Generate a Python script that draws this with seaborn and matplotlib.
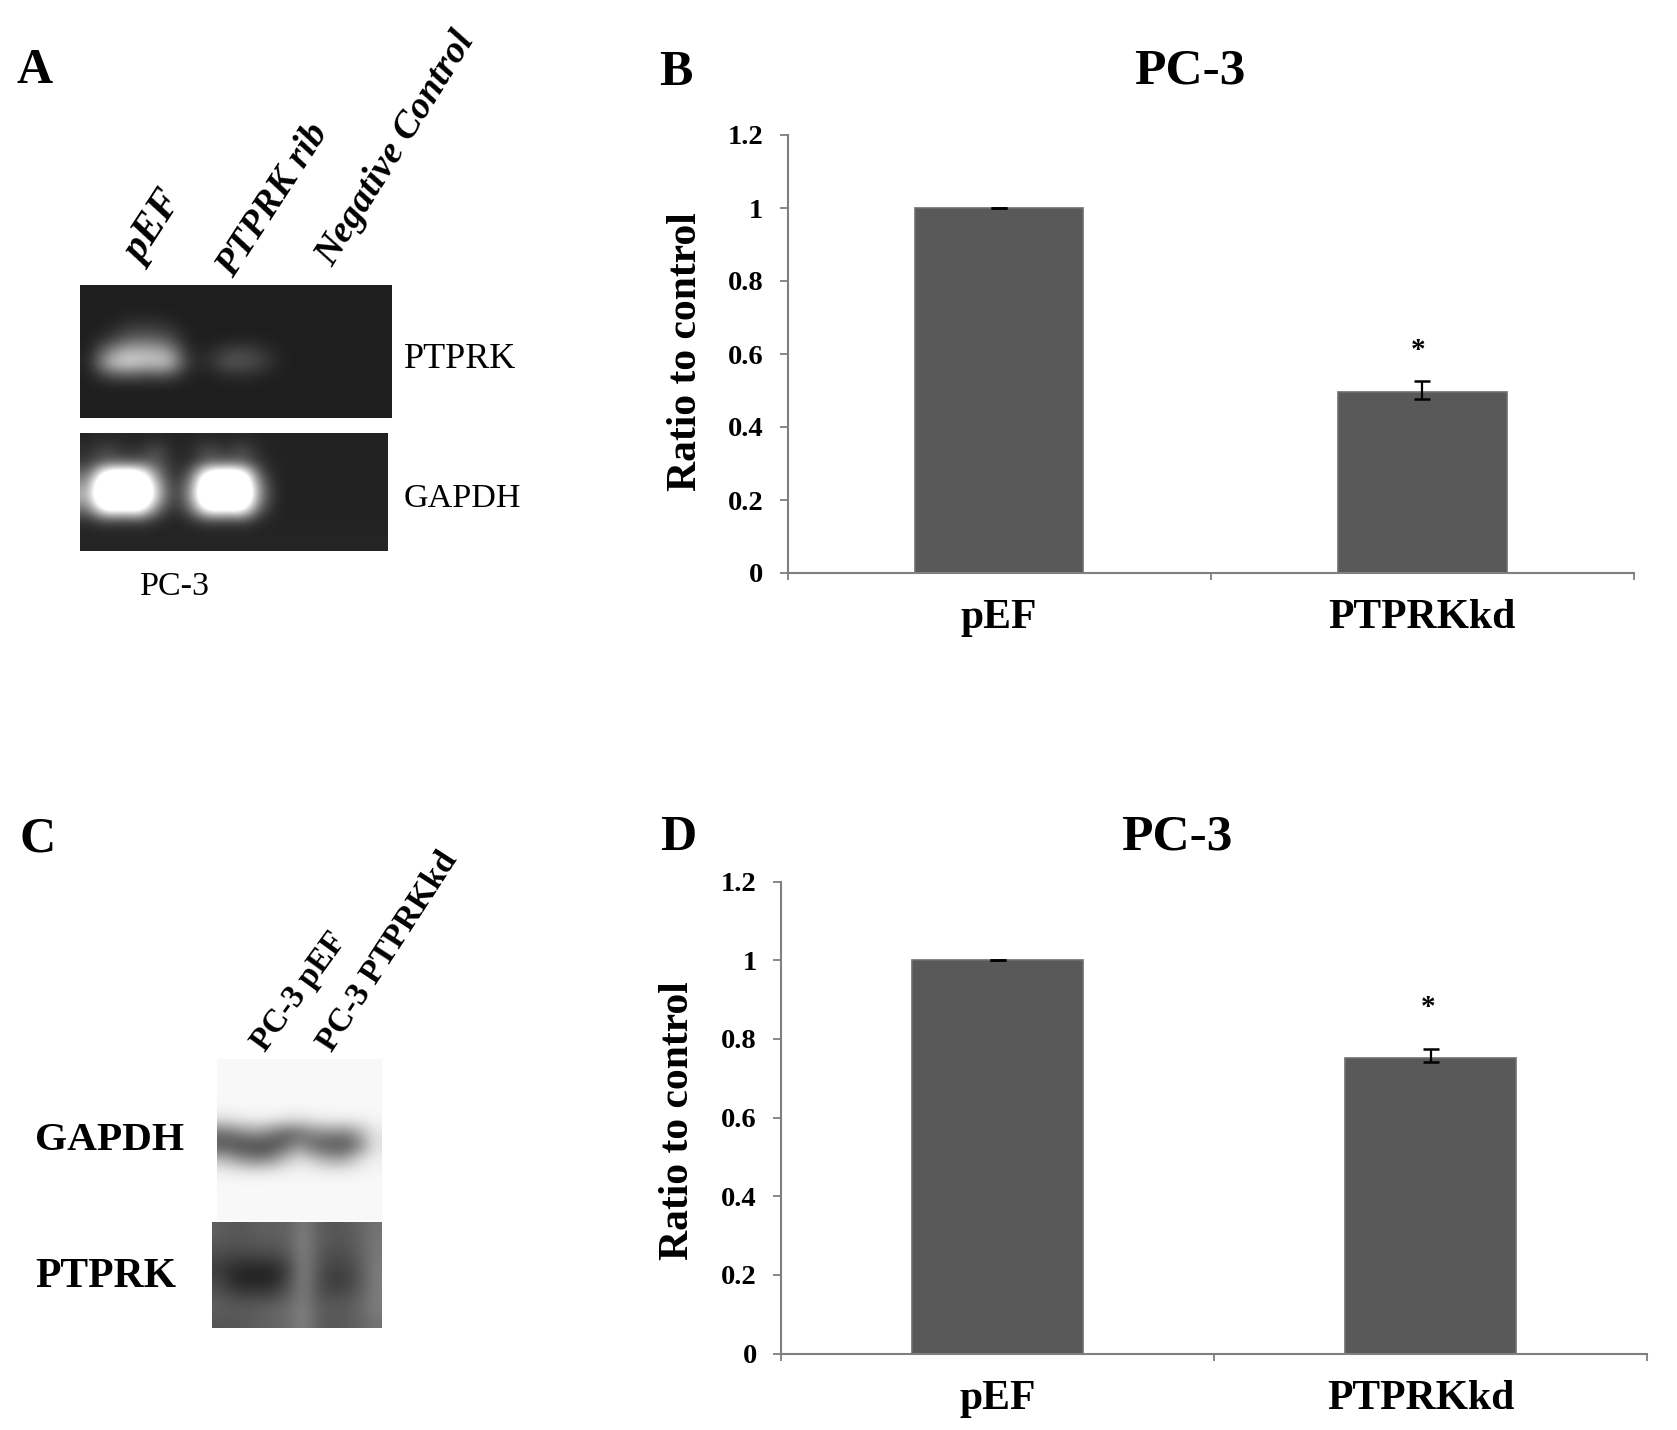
#!/usr/bin/env python3
# -*- coding: utf-8 -*-
import numpy as np
import pandas as pd
import matplotlib
matplotlib.use('Agg')
import matplotlib.pyplot as plt
import seaborn as sns

W, H = 1677, 1430

groups = ['pEF', 'PTPRKkd']
ticks_y = [0, 0.2, 0.4, 0.6, 0.8, 1.0, 1.2]
ticks_y_labels = ['0', '0.2', '0.4', '0.6', '0.8', '1', '1.2']

ratio_b = [1.0, 0.497]
err_low_b = [0.0, 0.020]
err_high_b = [0.0, 0.029]
star_b = 0.61

ratio_d = [1.0, 0.752]
err_low_d = [0.0, 0.012]
err_high_d = [0.0, 0.023]
star_d = 0.88

gel_ptprk = [
    [30] * 16,
    [30] * 16,
    [30, 30, 34, 34, 32, 30, 30, 30, 30, 30, 30, 30, 30, 30, 30, 30],
    [30, 34, 55, 60, 50, 30, 30, 30, 30, 30, 30, 30, 30, 30, 30, 30],
    [30, 55, 95, 100, 85, 32, 30, 32, 34, 32, 30, 30, 30, 30, 30, 30],
    [30, 130, 185, 175, 165, 40, 35, 62, 70, 48, 30, 30, 30, 30, 30, 30],
    [32, 190, 220, 190, 210, 50, 40, 85, 85, 58, 30, 30, 30, 30, 30, 30],
    [30, 80, 90, 75, 85, 34, 32, 42, 45, 36, 30, 30, 30, 30, 30, 30],
    [30] * 16,
    [30] * 16,
    [30] * 16,
]
gel_gapdh = [
    [36, 40, 38, 36, 40, 36, 36, 40, 36, 40, 36, 34, 34, 34, 34, 34, 34, 34],
    [45, 75, 48, 48, 80, 36, 40, 80, 48, 80, 40, 34, 34, 34, 34, 34, 34, 34],
    [55, 95, 85, 85, 95, 38, 48, 95, 85, 95, 48, 34, 34, 34, 34, 34, 34, 34],
    [100, 320, 340, 320, 130, 38, 90, 320, 340, 320, 80, 34, 34, 34, 34, 34, 34, 34],
    [150, 420, 420, 420, 190, 40, 135, 420, 420, 420, 120, 34, 34, 34, 34, 34, 34, 34],
    [170, 420, 420, 420, 200, 40, 150, 420, 420, 420, 130, 34, 34, 34, 34, 34, 34, 34],
    [110, 300, 270, 300, 120, 38, 100, 300, 270, 300, 85, 34, 34, 34, 34, 34, 34, 34],
    [45, 70, 60, 70, 45, 34, 45, 70, 60, 70, 40, 34, 34, 34, 34, 34, 34, 34],
    [36] * 18,
    [36] * 18,
]
blot_gapdh = [
    [248] * 11,
    [248] * 11,
    [248] * 11,
    [248] * 11,
    [225, 235, 240, 240, 230, 225, 235, 240, 240, 240, 245],
    [110, 130, 150, 130, 95, 105, 135, 140, 130, 170, 230],
    [85, 75, 70, 70, 100, 150, 100, 85, 80, 130, 225],
    [190, 150, 130, 140, 190, 225, 200, 170, 170, 220, 240],
    [242, 240, 240, 240, 242, 244, 244, 242, 242, 244, 246],
    [248] * 11,
    [248] * 11,
    [248] * 11,
]
blot_ptprk = [
    [95, 85, 90, 95, 95, 100, 125, 95, 85, 90, 100, 115],
    [90, 85, 85, 90, 90, 100, 130, 95, 85, 85, 100, 120],
    [75, 70, 70, 72, 72, 90, 130, 90, 75, 80, 95, 120],
    [60, 45, 38, 38, 42, 75, 130, 85, 65, 70, 90, 125],
    [70, 42, 35, 35, 42, 80, 130, 80, 60, 62, 90, 125],
    [85, 70, 65, 65, 72, 95, 125, 85, 75, 80, 95, 125],
    [95, 90, 90, 95, 100, 110, 130, 95, 90, 90, 105, 125],
    [85, 85, 90, 95, 100, 110, 130, 95, 85, 90, 100, 115],
]

sns.set_theme(style='white')
plt.rcParams['font.family'] = ['Liberation Serif', 'DejaVu Serif']
plt.rcParams['figure.dpi'] = 100

fig = plt.figure(figsize=(W / 100, H / 100), facecolor='white')


def px_axes(x0, y0, x1, y1):
    return fig.add_axes([x0 / W, 1 - y1 / H, (x1 - x0) / W, (y1 - y0) / H])


def label(x, y, s, size, weight='bold', style='normal', rot=0, ha='center', va='center'):
    fig.text(x / W, 1 - y / H, s, fontsize=size, fontweight=weight, fontstyle=style,
             rotation=rot, ha=ha, va=va, rotation_mode='anchor', color='black')


def blot(x0, y0, x1, y1, grid):
    ax = px_axes(x0, y0, x1, y1)
    ax.imshow(np.array(grid, dtype=float), cmap='gray', vmin=0, vmax=255,
              aspect='auto', interpolation='bicubic')
    ax.axis('off')


def bar_panel(x0, y0, x1, y1, ratio, err_low, err_high, star, star_dx, y_pad, bar_w, label_dx):
    ax = px_axes(x0, y0, x1, y1)
    df = pd.DataFrame({'group': groups, 'ratio': ratio})
    sns.barplot(data=df, x='group', y='ratio', ax=ax, color='#595959', saturation=1,
                width=bar_w, edgecolor='#6e6e6e', linewidth=1.2, errorbar=None)
    ax.errorbar([0, 1], ratio, yerr=[err_low, err_high], fmt='none', ecolor='black',
                elinewidth=1.6, capsize=5.8, capthick=1.8, zorder=5)
    ax.text(1 + star_dx, star, '*', fontsize=21, fontweight='bold', color='black',
            ha='center', va='center')
    ax.set_xlim(-0.5, 1.5)
    ax.set_ylim(0, 1.2)
    ax.set_facecolor('none')
    ax.set_xlabel('')
    ax.set_ylabel('')
    ax.set_yticks(ticks_y)
    ax.set_yticklabels(ticks_y_labels, fontsize=20.5, fontweight='bold', color='black')
    ax.set_xticks([-0.5, 0.5, 1.5])
    ax.set_xticklabels([])
    ax.set_xticks([0, 1 + label_dx], minor=True)
    ax.set_xticklabels(groups, minor=True, fontsize=30, fontweight='bold', color='black')
    ax.tick_params(axis='y', length=5.5, width=1.3, color='#7f7f7f', pad=y_pad, left=True)
    ax.tick_params(axis='x', which='major', length=5, width=1.3, color='#7f7f7f', bottom=True)
    ax.tick_params(axis='x', which='minor', length=0, pad=19)
    sns.despine(ax=ax)
    for side in ['left', 'bottom']:
        ax.spines[side].set_color('#7f7f7f')
        ax.spines[side].set_linewidth(1.5)
    return ax


# panel A
blot(80, 284.5, 392, 418, gel_ptprk)
blot(80, 432.5, 388, 551, gel_gapdh)
label(35, 71, 'A', 36)
label(142, 265, 'pEF', 30, style='italic', rot=57, ha='left', va='baseline')
label(233, 279, 'PTPRK rib', 27.5, style='italic', rot=57, ha='left', va='baseline')
label(333, 268, 'Negative Control', 27.5, style='italic', rot=58, ha='left', va='baseline')
label(404, 359, 'PTPRK', 26, weight='normal', ha='left')
label(404, 499, 'GAPDH', 24.5, weight='normal', ha='left')
label(175, 587, 'PC-3', 24.5, weight='normal')

# panel B
label(676, 73, 'B', 36)
label(1190, 72, 'PC-3', 37)
bar_panel(787.5, 135, 1634, 573, ratio_b, err_low_b, err_high_b, star_b, -0.01, 12, 0.398, 0)
label(686, 352, 'Ratio to control', 30, rot=90)

# panel C
blot(217, 1059, 382, 1220, blot_gapdh)
blot(212, 1222, 382, 1328, blot_ptprk)
label(38, 840, 'C', 36)
label(265, 1053, 'PC-3 pEF', 23.5, rot=54, ha='left', va='baseline')
label(332, 1053, 'PC-3 PTPRKkd', 24, rot=57, ha='left', va='baseline')
label(35, 1141, 'GAPDH', 29.7, ha='left')
label(35, 1277, 'PTPRK', 30, ha='left')

# panel D
label(678, 838, 'D', 36)
label(1177, 838, 'PC-3', 37)
bar_panel(781, 881.5, 1647, 1353.5, ratio_d, err_low_d, err_high_d, star_d, -0.005, 12, 0.395, -0.023)
label(678, 1121, 'Ratio to control', 30, rot=90)

fig.savefig('out.png', dpi=100, facecolor='white')
